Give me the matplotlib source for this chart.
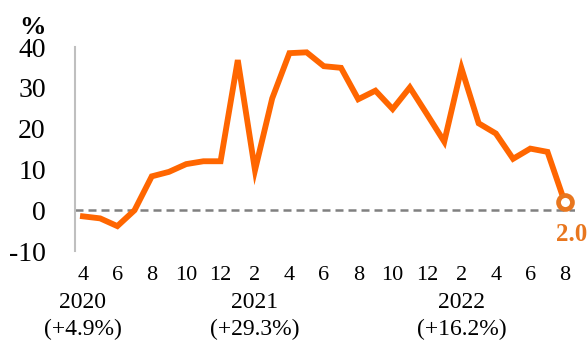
import numpy as np
import matplotlib.pyplot as plt

plt.rcParams['font.family'] = ['Liberation Serif', 'DejaVu Serif']
plt.rcParams['axes.unicode_minus'] = False

# monthly growth, Apr 2020 .. Aug 2022 (%)
values = [-1.5, -2.0, -3.9, 0.0, 8.3, 9.4, 11.3, 12.0, 12.0,
          36.8, 9.8, 27.4, 38.5, 38.7, 35.3, 34.9, 27.2, 29.3, 24.8, 30.1, 23.5,
          16.8, 34.8, 21.3, 18.8, 12.6, 15.1, 14.3, 2.0]
months = [4, 5, 6, 7, 8, 9, 10, 11, 12,
          1, 2, 3, 4, 5, 6, 7, 8, 9, 10, 11, 12,
          1, 2, 3, 4, 5, 6, 7, 8]
years = ['2020', '2021', '2022']
year_growth = ['(+4.9%)', '(+29.3%)', '(+16.2%)']
year_pos = [0, 10, 22]
last_label = '2.0'

x = np.arange(len(values))
orange = '#FF6600'
dark_orange = '#E8761E'

fig = plt.figure(figsize=(5.87, 3.41), dpi=100)
ax = fig.add_axes([0.1278, 0.2639, 0.8518, 0.5982])

ax.axhline(0, color='#808080', lw=1.8, ls=(0, (3.2, 2)), zorder=1)
ax.plot(x, values, color=orange, lw=4.2, solid_joinstyle='miter', zorder=2)
ax.plot(x[-1], values[-1], 'o', ms=10, mfc='white', mec=dark_orange, mew=3.4, zorder=3)
ax.text(x[-1] + 0.4, values[-1] - 8.0, last_label, color=dark_orange, fontsize=18,
        fontweight='bold', ha='center', va='center')

ax.set_xlim(-0.46, 28.6)
ax.set_ylim(-10, 40)
ax.set_yticks([-10, 0, 10, 20, 30, 40])
ax.tick_params(axis='y', length=0, labelsize=20, pad=21)

ticks = x[::2]
ax.set_xticks(ticks)
ax.set_xticklabels([str(months[i]) for i in ticks])
ax.tick_params(axis='x', length=0, labelsize=16, pad=11)

for s in ['top', 'right', 'bottom']:
    ax.spines[s].set_visible(False)
ax.spines['left'].set_color('#BFBFBF')
ax.spines['left'].set_linewidth(1.5)

tr = ax.get_xaxis_transform()
for p, yr, g in zip(year_pos, years, year_growth):
    ax.text(p, -0.25, yr, transform=tr, ha='center', va='center', fontsize=17)
    ax.text(p, -0.385, g, transform=tr, ha='center', va='center', fontsize=17)

fig.text(32 / 587, 1 - 27 / 341, '%', ha='center', va='center', fontsize=19, fontweight='bold')

fig.savefig('out.png', dpi=100)
